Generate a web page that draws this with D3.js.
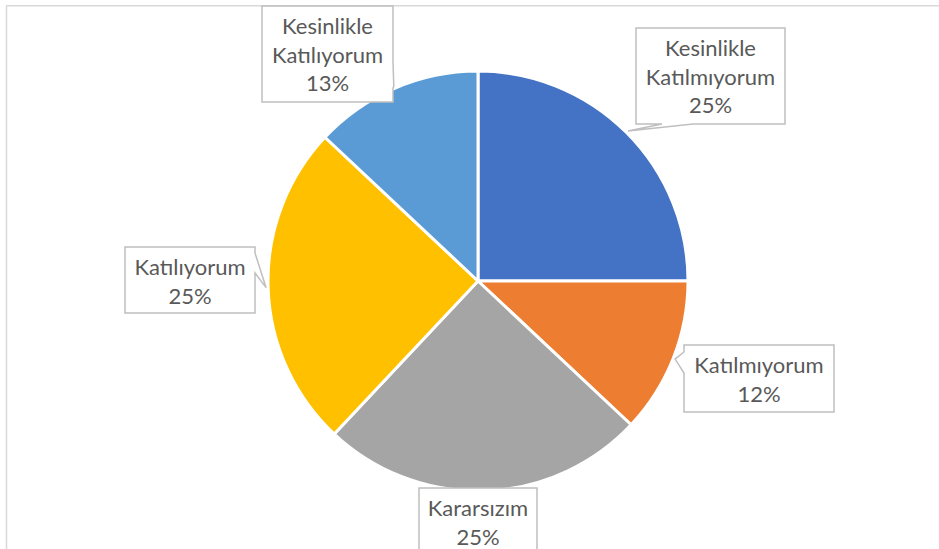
<!DOCTYPE html>
<html>
<head>
<meta charset="utf-8">
<script src="https://cdn.jsdelivr.net/npm/d3@7"></script>
<style>
  html, body { margin: 0; padding: 0; background: #fff; }
  svg { display: block; }
  text { font-family: Lato, "Open Sans", sans-serif; }
</style>
</head>
<body>
<svg id="chart" width="939" height="549"></svg>
<script>
// Survey answers and their shares (%)
const categories = [
  "Kesinlikle Katılmıyorum",
  "Katılmıyorum",
  "Kararsızım",
  "Katılıyorum",
  "Kesinlikle Katılıyorum"
];
const values = [25, 12, 25, 25, 13];
const colors = ["#4472C4", "#ED7D31", "#A5A5A5", "#FFC000", "#5B9BD5"];

// Callout boxes for the data labels (box and where its pointer leaves the box)
const labelBoxes = [
  { x: 636, y: 28,  w: 149, h: 96, side: "bottom", from: 662, to: 693 },
  { x: 684, y: 345, w: 150, h: 67, side: "left",   from: 352, to: 373 },
  { x: 419, y: 488, w: 118, h: 67, side: null },
  { x: 125, y: 247, w: 130, h: 66, side: "right",  from: 253, to: 273 },
  { x: 262, y: 6,   w: 131, h: 96, side: "right",  from: 62,  to: 88 }
];

const width = 939, height = 549;
const cx = 478, cy = 281, radius = 210;

const svg = d3.select("#chart");

// chart area border
svg.append("rect")
  .attr("x", 6.5).attr("y", 5.75)
  .attr("width", 1000).attr("height", 1000)
  .attr("fill", "#fff")
  .attr("stroke", "#d9d9d9")
  .attr("stroke-width", 1.5);

const pie = d3.pie().sort(null).value(d => d);
const arcs = pie(values);

const arc = d3.arc().innerRadius(0).outerRadius(radius);
const tipArc = d3.arc().innerRadius(radius + 2).outerRadius(radius + 2);

const g = svg.append("g").attr("transform", `translate(${cx},${cy})`);

g.selectAll("path.slice")
  .data(arcs)
  .join("path")
  .attr("class", "slice")
  .attr("d", arc)
  .attr("fill", (d, i) => colors[i])
  .attr("stroke", "#fff")
  .attr("stroke-width", 3)
  .attr("stroke-linejoin", "round");

// Callout outline: rectangle with a pointer wedge reaching to the slice
function calloutPath(b, tip) {
  const x0 = b.x, y0 = b.y, x1 = b.x + b.w, y1 = b.y + b.h;
  const p = d3.path();
  p.moveTo(x0, y0);
  if (b.side === "top") { p.lineTo(b.from, y0); p.lineTo(tip[0], tip[1]); p.lineTo(b.to, y0); }
  p.lineTo(x1, y0);
  if (b.side === "right") { p.lineTo(x1, b.from); p.lineTo(tip[0], tip[1]); p.lineTo(x1, b.to); }
  p.lineTo(x1, y1);
  if (b.side === "bottom") { p.lineTo(b.to, y1); p.lineTo(tip[0], tip[1]); p.lineTo(b.from, y1); }
  p.lineTo(x0, y1);
  if (b.side === "left") { p.lineTo(x0, b.to); p.lineTo(tip[0], tip[1]); p.lineTo(x0, b.from); }
  p.closePath();
  return p.toString();
}

const labels = svg.append("g");

arcs.forEach((d, i) => {
  const b = labelBoxes[i];
  const c = tipArc.centroid(d);
  const tip = [cx + c[0], cy + c[1]];

  labels.append("path")
    .attr("d", calloutPath(b, tip))
    .attr("fill", "#fff")
    .attr("stroke", "#bfbfbf")
    .attr("stroke-width", 1.5)
    .attr("stroke-linejoin", "miter");

  const lines = categories[i].split(" ").concat([values[i] + "%"]);
  const t = labels.append("text")
    .attr("text-anchor", "middle")
    .attr("font-size", 22)
    .attr("fill", "#595959");
  lines.forEach((ln, k) => {
    t.append("tspan")
      .attr("x", b.x + b.w / 2)
      .attr("y", b.y + 28 + k * 28.5)
      .text(ln);
  });
});
</script>
</body>
</html>
